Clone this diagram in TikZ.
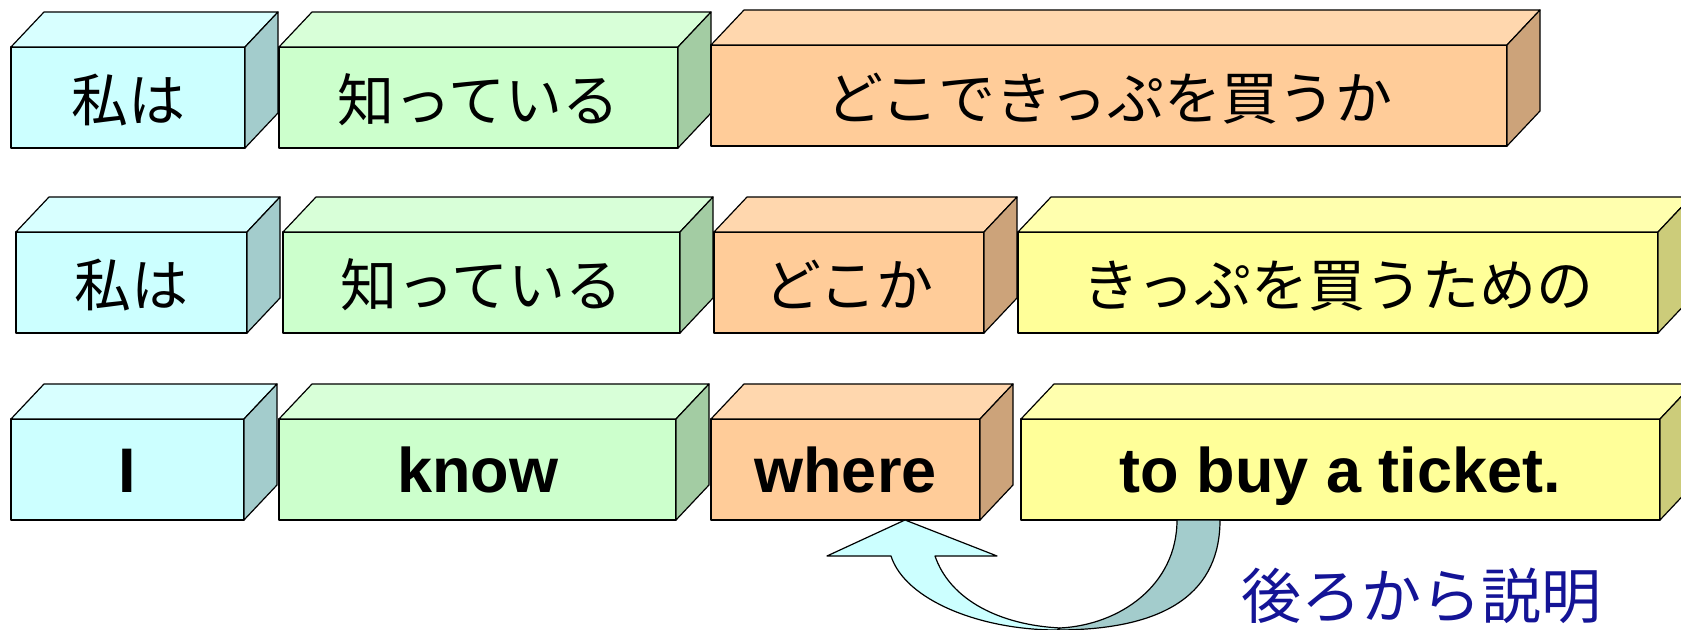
\documentclass[tikz,border=0pt]{standalone}
\usepackage{fontspec}
\setmainfont{Liberation Sans}
\newfontfamily\jpfont{Noto Sans CJK JP}
\usetikzlibrary{calc, positioning}

\definecolor{cyanF}{HTML}{CCFFFF}
\definecolor{cyanT}{HTML}{D8FFFF}
\definecolor{cyanS}{HTML}{A3CCCC}
\definecolor{greenF}{HTML}{CCFFCC}
\definecolor{greenT}{HTML}{D8FFD8}
\definecolor{greenS}{HTML}{A3CCA3}
\definecolor{orangeF}{HTML}{FFCC99}
\definecolor{orangeT}{HTML}{FFD7AE}
\definecolor{orangeS}{HTML}{CCA37A}
\definecolor{yellowF}{HTML}{FFFF99}
\definecolor{yellowT}{HTML}{FFFFAE}
\definecolor{yellowS}{HTML}{CCCC7A}
\definecolor{navy}{RGB}{20,20,150}

% front face is the node, top and side are drawn from its anchors
\newcommand{\wordblock}[6]{%
  \node[word, fill=#4F, minimum width=#3, #5] (#1) at (#2) {#6};
  \draw[face, fill=#4T] (#1.north west) -- ++(33,-35) -- ($(#1.north east)+(33,-35)$) -- (#1.north east) -- cycle;
  \draw[face, fill=#4S] (#1.north east) -- ++(33,-35) -- ($(#1.south east)+(33,-35)$) -- (#1.south east) -- cycle;
}

\begin{document}
\begin{tikzpicture}
    [
        x=0.5pt, y=-0.5pt,
        face/.style={draw=black, line width=0.6pt, line join=round},
        word/.style={face, rectangle, anchor=north west, inner sep=0pt, outer sep=0pt, minimum height=50.5pt},
        jp/.style={font=\jpfont\fontsize{28.5}{30}\selectfont, text height=24.5pt, text depth=0pt},
        en/.style={font=\bfseries\fontsize{31.5}{33}\selectfont, text height=22.6pt, text depth=0pt},
        note/.style={font=\jpfont\fontsize{30}{32}\selectfont, text=navy, inner sep=0pt}
    ]
    \useasboundingbox (0,0) rectangle (1681,630);
    \clip (0,0) rectangle (1681,630);

    % row 1
    \wordblock{watashi1}{11,47}{117pt}{cyan}{jp}{私は}
    \wordblock{shitte1}{279,47}{199.5pt}{green}{jp}{知っている}
    \wordblock{doko1}{711,45}{398pt}{orange}{jp}{どこできっぷを買うか}

    % row 2
    \wordblock{watashi2}{16,232}{115.5pt}{cyan}{jp}{私は}
    \wordblock{shitte2}{283,232}{198.5pt}{green}{jp}{知っている}
    \wordblock{doko2}{714,232}{135pt}{orange}{jp}{どこか}
    \wordblock{kippu2}{1018,232}{320pt}{yellow}{jp}{きっぷを買うための}

    % row 3
    \wordblock{subj}{11,419}{116.5pt}{cyan}{en}{I}
    \wordblock{verb}{279,419}{198.5pt}{green}{en}{know}
    \wordblock{where}{711,419}{134.5pt}{orange}{en}{where}
    \wordblock{toinf}{1021,419}{319.5pt}{yellow}{en}{to buy a ticket.}

    \coordinate (tip) at ($(where.south west)+(194,0)$);
    \coordinate (rootout) at ($(toinf.south west)+(199,0)$);
    \coordinate (rootin) at ($(toinf.south west)+(156,0)$);

    % curved arrow from the infinitive back to where
    \draw[face, fill=cyanS] (rootout) .. controls (1220,590) and (1170,630) .. (1057,630)
        -- (1060,628) .. controls (1120,625) and (1177,585) .. (rootin) -- cycle;
    \draw[face, fill=cyanF] (1057,630) .. controls (980,630) and (905,600) .. (891,556)
        -- (827,556) -- (tip) -- (997,556) -- (935,556)
        .. controls (950,600) and (1000,625) .. (1060,628) -- cycle;

    \node[note] (hint) at (1421,596) {後ろから説明};
\end{tikzpicture}
\end{document}
